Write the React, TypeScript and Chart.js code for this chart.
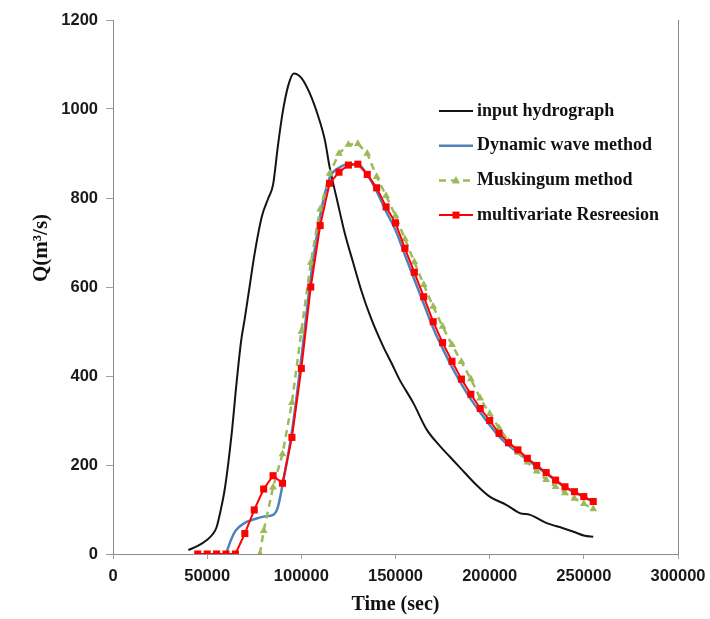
import React, { useEffect, useRef } from "react";
import { Chart, registerables } from "chart.js";

Chart.register(...registerables);

// ---------- data ----------
const X_TICKS = [0, 50000, 100000, 150000, 200000, 250000, 300000];
const Y_TICKS = [0, 200, 400, 600, 800, 1000, 1200];

const SERIES_LABELS = [
  "input hydrograph",
  "Dynamic wave method",
  "Muskingum method",
  "multivariate Resreesion",
];

const inputT = [40000, 45000, 50000, 53000, 55000, 57000, 59500, 63000, 65500, 68000, 70000, 72500, 75000, 79000, 82500, 85000, 87500, 90000, 93000, 96000, 100000, 104500, 109000, 112500, 115000, 119000, 123000, 127500, 132000, 137000, 143500, 148000, 152000, 159500, 166500, 173500, 179000, 184500, 193000, 200000, 209000, 216000, 221500, 230000, 239000, 244500, 250500, 255000];
const inputQ = [9, 18, 32, 45, 60, 95, 150, 270, 380, 478, 530, 600, 670, 758, 800, 830, 915, 990, 1052, 1080, 1070, 1035, 983, 930, 870, 795, 722, 655, 590, 530, 466, 428, 393, 339, 280, 243, 218, 193, 155, 129, 110, 92, 88, 70, 58, 50, 41, 39];

const dynT = [60000, 62500, 65000, 70000, 75000, 80000, 85000, 87500, 90000, 95000, 100000, 105000, 110000, 115000, 120000, 125000, 130000, 135000, 140000, 145000, 150000, 155000, 160000, 165000, 170000, 175000, 180000, 185000, 190000, 195000, 200000, 205000, 210000, 215000, 220000, 225000, 230000, 235000, 240000, 245000, 250000, 255000];
const dynQ = [0, 30, 52, 70, 78, 84, 88, 105, 155, 275, 440, 620, 760, 845, 868, 876, 876, 852, 815, 770, 728, 672, 617, 562, 508, 462, 420, 382, 348, 318, 290, 264, 244, 228, 212, 196, 181, 165, 150, 139, 128, 117];

const muskT = [78000, 80000, 85000, 90000, 95000, 100000, 105000, 110000, 115000, 120000, 125000, 130000, 135000, 140000, 145000, 150000, 155000, 160000, 165000, 170000, 175000, 180000, 185000, 190000, 195000, 200000, 205000, 210000, 215000, 220000, 225000, 230000, 235000, 240000, 245000, 250000, 255000];
const muskQ = [0, 52, 150, 225, 340, 500, 655, 775, 855, 900, 920, 922, 900, 848, 805, 760, 708, 656, 605, 556, 511, 470, 432, 393, 350, 315, 283, 253, 228, 206, 186, 167, 151, 137, 125, 113, 101];

const regT = [45000, 50000, 55000, 60000, 65000, 70000, 75000, 80000, 85000, 90000, 95000, 100000, 105000, 110000, 115000, 120000, 125000, 130000, 135000, 140000, 145000, 150000, 155000, 160000, 165000, 170000, 175000, 180000, 185000, 190000, 195000, 200000, 205000, 210000, 215000, 220000, 225000, 230000, 235000, 240000, 245000, 250000, 255000];
const regQ = [0, 0, 0, 0, 0, 46, 99, 146, 176, 159, 262, 417, 600, 738, 833, 858, 874, 876, 853, 823, 780, 744, 687, 633, 578, 522, 475, 433, 393, 359, 327, 300, 271, 250, 234, 215, 199, 183, 166, 151, 140, 129, 118];

const toXY = (t: number[], q: number[]) => t.map((x, i) => ({ x, y: q[i] }));

const SERIF = "'Liberation Serif', 'Times New Roman', serif";
const SANS = "'Liberation Sans', Arial, sans-serif";

const insideLegend = {
  id: "insideLegend",
  afterDraw(chart: any) {
    const { ctx, chartArea } = chart;
    const x0 = chartArea.left + 326;
    const x1 = x0 + 34;
    const y0 = chartArea.top + 91;
    const step = 34.7;
    ctx.save();
    chart.data.datasets.forEach((ds: any, i: number) => {
      const y = y0 + i * step;
      ctx.strokeStyle = ds.borderColor;
      ctx.lineWidth = ds.borderWidth;
      ctx.setLineDash(ds.borderDash || []);
      ctx.beginPath();
      ctx.moveTo(x0, y);
      ctx.lineTo(x1, y);
      ctx.stroke();
      ctx.setLineDash([]);
      const cx = (x0 + x1) / 2;
      if (ds.pointStyle === "rect" && ds.pointRadius > 0) {
        ctx.fillStyle = ds.pointBackgroundColor;
        ctx.fillRect(cx - 3.5, y - 3.5, 7, 7);
      } else if (ds.pointStyle === "triangle" && ds.pointRadius > 0) {
        ctx.fillStyle = ds.pointBackgroundColor;
        ctx.beginPath();
        ctx.moveTo(cx, y - 4.5);
        ctx.lineTo(cx + 4, y + 3);
        ctx.lineTo(cx - 4, y + 3);
        ctx.closePath();
        ctx.fill();
      }
      ctx.fillStyle = "#111";
      ctx.font = `bold 18px ${SERIF}`;
      ctx.textBaseline = "middle";
      ctx.textAlign = "left";
      ctx.fillText(ds.label, x1 + 4, y);
    });
    ctx.restore();
  },
};

const frameAndTitle = {
  id: "frameAndTitle",
  afterDraw(chart: any) {
    const { ctx, chartArea } = chart;
    ctx.save();
    ctx.strokeStyle = "#8a8a8a";
    ctx.lineWidth = 1;
    ctx.beginPath();
    ctx.moveTo(Math.round(chartArea.right) + 0.5, chartArea.top);
    ctx.lineTo(Math.round(chartArea.right) + 0.5, chartArea.bottom);
    ctx.stroke();
    ctx.translate(42, chartArea.top + 228);
    ctx.rotate(-Math.PI / 2);
    ctx.fillStyle = "#111";
    ctx.font = `bold 21px ${SERIF}`;
    ctx.textAlign = "center";
    ctx.textBaseline = "middle";
    ctx.fillText("Q(m\u00B3/s)", 0, 0);
    ctx.restore();
  },
};

export default function App() {
  const ref = useRef<HTMLCanvasElement | null>(null);

  useEffect(() => {
    if (!ref.current) return;
    const chart = new Chart(ref.current, {
      type: "line",
      data: {
        datasets: [
          {
            label: SERIES_LABELS[0],
            data: toXY(inputT, inputQ),
            borderColor: "#141414",
            borderWidth: 2,
            pointRadius: 0,
            tension: 0.4,
            cubicInterpolationMode: "monotone",
            order: 3,
          },
          {
            label: SERIES_LABELS[1],
            data: toXY(dynT, dynQ),
            borderColor: "#4f81bd",
            borderWidth: 2.5,
            pointRadius: 0,
            tension: 0.4,
            cubicInterpolationMode: "monotone",
            order: 2,
          },
          {
            label: SERIES_LABELS[2],
            data: toXY(muskT, muskQ),
            borderColor: "#9bbb59",
            borderWidth: 2.5,
            borderDash: [7, 5],
            pointStyle: "triangle",
            pointRadius: 4.5,
            pointBackgroundColor: "#9bbb59",
            pointBorderColor: "#9bbb59",
            pointBorderWidth: 0,
            tension: 0,
            order: 1,
          },
          {
            label: SERIES_LABELS[3],
            data: toXY(regT, regQ),
            borderColor: "#ff0000",
            borderWidth: 2,
            pointStyle: "rect",
            pointRadius: 5,
            pointBackgroundColor: "#ff0000",
            pointBorderColor: "#ff0000",
            pointBorderWidth: 0,
            tension: 0,
            order: 0,
          },
        ],
      },
      options: {
        responsive: false,
        animation: false,
        layout: { padding: { left: 0, top: 20, right: 32, bottom: 0 } },
        plugins: {
          legend: { display: false },
          tooltip: { enabled: false },
        },
        scales: {
          x: {
            type: "linear",
            min: 0,
            max: 300000,
            afterBuildTicks: (s: any) => {
              s.ticks = X_TICKS.map((v) => ({ value: v }));
            },
            afterFit: (s: any) => {
              s.height = 65;
              s.paddingLeft = 0;
              s.paddingRight = 0;
            },
            grid: {
              drawOnChartArea: false,
              drawTicks: true,
              tickLength: 5,
              color: "#a0a0a0",
            },
            border: { display: true, color: "#8a8a8a", width: 1 },
            ticks: {
              maxRotation: 0,
              autoSkip: false,
              padding: 8,
              color: "#1a1a1a",
              font: { family: SANS, size: 16.5, weight: "bold" },
              callback: (v: any) => String(v),
            },
            title: {
              display: true,
              text: "Time (sec)",
              color: "#111",
              font: { family: SERIF, size: 20, weight: "bold" },
              padding: { top: 0, bottom: 2 },
            },
          },
          y: {
            type: "linear",
            min: 0,
            max: 1200,
            afterBuildTicks: (s: any) => {
              s.ticks = Y_TICKS.map((v) => ({ value: v }));
            },
            afterFit: (s: any) => {
              s.width = 113;
              s.paddingTop = 0;
              s.paddingBottom = 0;
            },
            grid: {
              drawOnChartArea: false,
              drawTicks: true,
              tickLength: 7,
              color: "#a0a0a0",
            },
            border: { display: true, color: "#8a8a8a", width: 1 },
            ticks: {
              padding: 8,
              color: "#1a1a1a",
              font: { family: SANS, size: 16.5, weight: "bold" },
              callback: (v: any) => String(v),
            },
          },
        },
      },
      plugins: [insideLegend, frameAndTitle],
    } as any);
    return () => chart.destroy();
  }, []);

  return (
    <div
      style={{
        position: "absolute",
        left: 0,
        top: 0,
        width: 710,
        height: 619,
        background: "#fff",
      }}
    >
      <canvas ref={ref} width={710} height={619} />
    </div>
  );
}
